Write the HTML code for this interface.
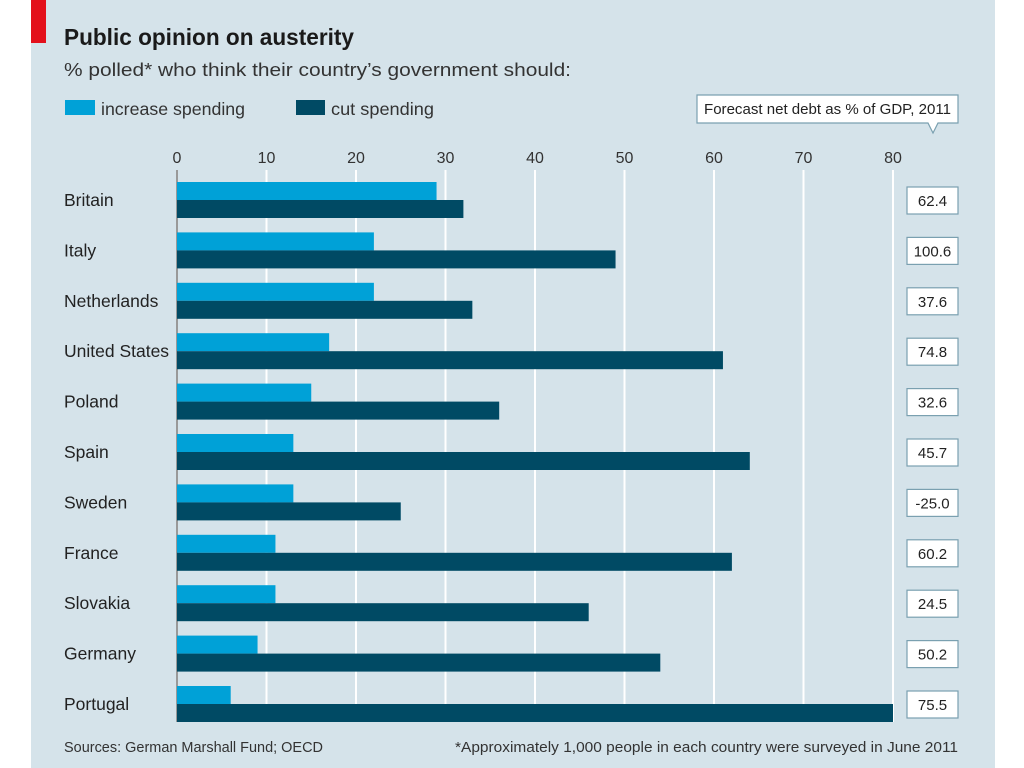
<!DOCTYPE html>
<html><head><meta charset="utf-8"><style>
body{margin:0;width:1024px;height:768px;background:#fff;overflow:hidden;font-family:"Liberation Sans",sans-serif;}
svg{position:absolute;left:0;top:0}
</style></head><body>
<svg id="c" width="1024" height="768" font-family="Liberation Sans, sans-serif">
<rect x="31" y="0" width="964" height="768" fill="#d5e3ea"/>
<rect x="31" y="0" width="15" height="43" fill="#e3101b"/>
<text x="64" y="45" font-size="23" font-weight="bold" fill="#1a1a1a" textLength="290" lengthAdjust="spacingAndGlyphs">Public opinion on austerity</text>
<text x="64" y="76" font-size="18" fill="#333" textLength="507" lengthAdjust="spacingAndGlyphs">% polled* who think their country’s government should:</text>
<rect x="65" y="100" width="30" height="15" fill="#00a1d7"/>
<text x="101" y="115" font-size="17.5" fill="#333" textLength="144" lengthAdjust="spacingAndGlyphs">increase spending</text>
<rect x="296" y="100" width="29" height="15" fill="#004a64"/>
<text x="331" y="115" font-size="17.5" fill="#333" textLength="103" lengthAdjust="spacingAndGlyphs">cut spending</text>
<g>
<path d="M697,95 H958 V123 H938 L933,133 L928,123 H697 Z" fill="#fff" stroke="#7aa0b0" stroke-width="1.2"/>
<text x="704" y="114" font-size="15" fill="#222" textLength="247" lengthAdjust="spacingAndGlyphs">Forecast net debt as % of GDP, 2011</text>
</g>
<g id="grid"></g><g id="bars"></g>
<text x="64" y="752" font-size="14.5" fill="#333" textLength="259" lengthAdjust="spacingAndGlyphs">Sources: German Marshall Fund; OECD</text>
<text x="455" y="752" font-size="14.5" fill="#333" textLength="503" lengthAdjust="spacingAndGlyphs">*Approximately 1,000 people in each country were surveyed in June 2011</text>
</svg>
<script>
const countries=["Britain","Italy","Netherlands","United States","Poland","Spain","Sweden","France","Slovakia","Germany","Portugal"];
const increaseVals=[29,22,22,17,15,13,13,11,11,9,6];
const cutVals=[32,49,33,61,36,64,25,62,46,54,80];
const debtLabels=["62.4","100.6","37.6","74.8","32.6","45.7","-25.0","60.2","24.5","50.2","75.5"];
const ticks=[0,10,20,30,40,50,60,70,80];
const NS="http://www.w3.org/2000/svg";
const x=v=>177+v*8.95;
const rowY=i=>200+i*50.4;
function mk(t,a,p){const e=document.createElementNS(NS,t);for(const k in a)e.setAttribute(k,a[k]);p.appendChild(e);return e;}
const g=document.getElementById('grid'),b=document.getElementById('bars');
ticks.forEach(t=>{
 if(t>0){const l=mk('line',{x1:x(t),x2:x(t),y1:170,y2:722,stroke:'#fff','stroke-width':2},g);
 
 }
 const tx=mk('text',{x:x(t),y:163,'font-size':16,'text-anchor':'middle',fill:'#333'},g);tx.textContent=t;
 
 
});
const ax=mk('line',{x1:177,x2:177,y1:170,y2:722,stroke:'#999','stroke-width':2},g);


countries.forEach((c,i)=>{
 const y=rowY(i);
 const r1=mk('rect',{x:177,y:y-18,width:x(increaseVals[i])-177,height:18,fill:'#00a1d7'},b);
 
 
 const r2=mk('rect',{x:177,y:y,width:x(cutVals[i])-177,height:18,fill:'#004a64'},b);
 
 
 const t=mk('text',{x:64,y:y+6,'font-size':17.5,fill:'#222'},b);t.textContent=c;
 
 
 const bx=mk('rect',{x:907,y:y-13,width:51,height:27,fill:'#fff',stroke:'#7aa0b0','stroke-width':1.2},b);
 
 
 const dt=mk('text',{x:932.5,y:y+6,'font-size':15,'text-anchor':'middle',fill:'#222'},b);dt.textContent=debtLabels[i];
 
 
});
</script>
</body></html>
